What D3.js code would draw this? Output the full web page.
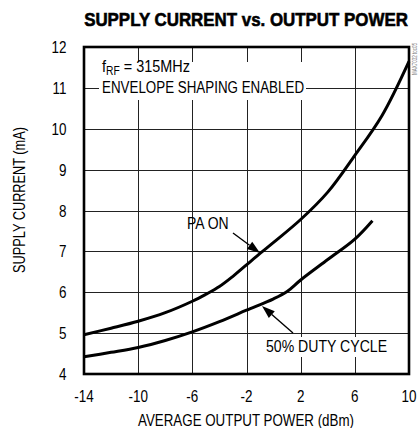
<!DOCTYPE html>
<html><head><meta charset="utf-8">
<script src="https://cdn.jsdelivr.net/npm/d3@7"></script>
<style>
body{margin:0;background:#fff;}
svg{display:block;}
text{font-family:"Liberation Sans",Arial,sans-serif;}
</style></head>
<body><svg id="c" width="420" height="428"></svg>
<script>
const xTicks = [-14, -10, -6, -2, 2, 6, 10];
const yTicks = [4, 5, 6, 7, 8, 9, 10, 11, 12];
const paOnX = [-14, -12, -10, -8, -6, -5, -4, -3, -2, -1, 0, 2, 4, 6, 8, 10];
const paOnY = [4.96, 5.12, 5.29, 5.5, 5.78, 5.95, 6.14, 6.39, 6.67, 6.95, 7.22, 7.78, 8.45, 9.35, 10.32, 11.65];
const dutyX = [-14, -12, -10, -8, -6, -4, -2, 0, 1, 2, 4, 6, 7.3];
const dutyY = [4.42, 4.53, 4.65, 4.82, 5.03, 5.28, 5.56, 5.84, 6.02, 6.3, 6.8, 7.3, 7.75];

const svg = d3.select("#c");
const L = 84, R = 409, T = 47, B = 374;
const x = d3.scaleLinear().domain([-14, 10]).range([L, R]);
const y = d3.scaleLinear().domain([4, 12]).range([B, T]);

// text helper: horizontally compressed text fitted to a target width
function txt(px, py, str, size, anchor, width, opts = {}) {
  const t = svg.append("text").attr("font-size", size).attr("fill", opts.fill || "#000")
    .attr("text-anchor", anchor);
  if (opts.weight) t.attr("font-weight", opts.weight);
  if (opts.stroke) t.attr("stroke", "#000").attr("stroke-width", opts.stroke);
  if (opts.build) opts.build(t); else t.text(str);
  const w = t.node().getComputedTextLength();
  const sx = width ? width / w : 0.8;
  const rot = opts.rotate ? ` rotate(${opts.rotate})` : "";
  t.attr("transform", `translate(${px},${py})${rot} scale(${sx},1)`);
  return t;
}

// grid
svg.selectAll(".vg").data(xTicks.slice(1, -1)).enter().append("line")
  .attr("x1", d => Math.round(x(d)) + 0.5).attr("x2", d => Math.round(x(d)) + 0.5)
  .attr("y1", T).attr("y2", B).attr("stroke", "#222").attr("stroke-width", 1);
svg.selectAll(".hg").data(yTicks.slice(1, -1)).enter().append("line")
  .attr("y1", d => Math.round(y(d)) + 0.5).attr("y2", d => Math.round(y(d)) + 0.5)
  .attr("x1", L).attr("x2", R).attr("stroke", "#222").attr("stroke-width", 1);

// white boxes behind annotations
svg.append("rect").attr("x", 99).attr("y", 62).attr("width", 207).attr("height", 38).attr("fill", "#fff");
svg.append("rect").attr("x", 263).attr("y", 337).attr("width", 127).attr("height", 20).attr("fill", "#fff");

// curves
const line = d3.line().x(d => x(d[0])).y(d => y(d[1])).curve(d3.curveCatmullRom.alpha(0.5));
svg.append("path").datum(paOnX.map((v, i) => [v, paOnY[i]])).attr("d", line)
  .attr("fill", "none").attr("stroke", "#000").attr("stroke-width", 3);
svg.append("path").datum(dutyX.map((v, i) => [v, dutyY[i]])).attr("d", line)
  .attr("fill", "none").attr("stroke", "#000").attr("stroke-width", 3);

// frame
svg.append("rect").attr("x", L).attr("y", T).attr("width", R - L).attr("height", B - T)
  .attr("fill", "none").attr("stroke", "#000").attr("stroke-width", 2.6);

// tick labels
xTicks.forEach(v => txt(x(v), 402, String(v), 16.8, "middle", null));
yTicks.forEach(v => txt(66.5, y(v) + 6, String(v), 16.8, "end", null));

// titles
txt(246, 26, "SUPPLY CURRENT vs. OUTPUT POWER", 18.5, "middle", 324, { weight: "bold", stroke: 0.6 });
txt(246, 426, "AVERAGE OUTPUT POWER (dBm)", 16.5, "middle", 216);
txt(25, 200, "SUPPLY CURRENT (mA)", 16.5, "middle", 146, { rotate: -90 });

// annotations
txt(102, 72, null, 16.8, "start", 88, { build: t => {
  t.append("tspan").text("f");
  t.append("tspan").attr("font-size", 12).attr("dy", 3).text("RF");
  t.append("tspan").attr("dy", -3).text(" = 315MHz");
}});
txt(102, 92.7, "ENVELOPE SHAPING ENABLED", 16.8, "start", 202);
txt(187, 229, "PA ON", 16.8, "start", 41.6);
txt(266, 352, "50% DUTY CYCLE", 16.8, "start", 121);
txt(417, 59, "MAX7032 toc05", 7, "middle", 32, { rotate: -90, fill: "#777" });

// arrows
function arrow(x1, y1, x2, y2) {
  const a = Math.atan2(y2 - y1, x2 - x1), len = 13, w = 4.5;
  const bx = x2 - len * Math.cos(a), by = y2 - len * Math.sin(a);
  svg.append("line").attr("x1", x1).attr("y1", y1).attr("x2", bx).attr("y2", by)
    .attr("stroke", "#000").attr("stroke-width", 1.4);
  const px = -Math.sin(a) * w, py = Math.cos(a) * w;
  svg.append("path").attr("d", `M${x2},${y2}L${bx + px},${by + py}L${bx - px},${by - py}Z`).attr("fill", "#000");
}
arrow(233, 233, 260, 253);
arrow(293, 333, 262, 306);
</script></body></html>
